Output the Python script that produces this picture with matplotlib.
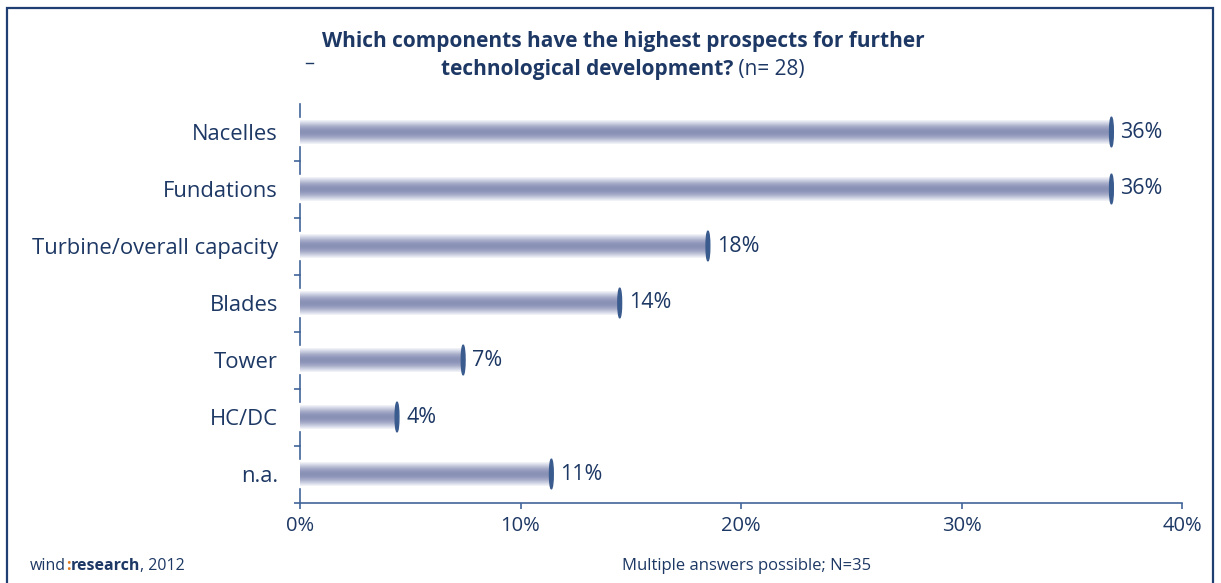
import matplotlib.pyplot as plt
import numpy as np
from matplotlib.patches import Ellipse, Rectangle
from matplotlib.colors import LinearSegmentedColormap
from matplotlib.lines import Line2D

plt.rcParams['font.family'] = ['Open Sans', 'DejaVu Sans']

categories = ['Nacelles', 'Fundations', 'Turbine/overall capacity', 'Blades',
              'Tower', 'HC/DC', 'n.a.']
# bar lengths as drawn in the picture, and the printed labels
bar_values = [36.8, 36.8, 18.5, 14.5, 7.4, 4.4, 11.4]
value_labels = ['36%', '36%', '18%', '14%', '7%', '4%', '11%']
x_ticks = [0, 10, 20, 30, 40]
x_ticklabels = ['0%', '10%', '20%', '30%', '40%']

navy = '#1d3864'
axis_col = '#42659a'
cap_col = '#3a5b8e'

W, H = 1221, 583
fig = plt.figure(figsize=(W / 100, H / 100), dpi=100)
ax = fig.add_axes([300 / W, 1 - 502.5 / H, 882 / W, 399 / H])


def put_row(pieces, x, y, align='left', size=12):
    # writes several text pieces side by side on one line (pixel coords)
    fig.canvas.draw()
    r = fig.canvas.get_renderer()
    arts = []
    for txt, weight, col in pieces:
        arts.append(fig.text(0, 1 - y / H, txt, ha='left', va='center',
                             fontsize=size, fontweight=weight, color=col))
    widths = [a.get_window_extent(r).width for a in arts]
    total = sum(widths)
    start = x - total / 2 if align == 'center' else x
    for a, w in zip(arts, widths):
        a.set_x(start / W)
        start += w


# gradient for the bars: pale edges, darker middle
cmap = LinearSegmentedColormap.from_list('bar', [(0, '#f5f6fa'), (0.5, '#c3c7db'), (1, '#8991b5')])
t = np.linspace(-1, 1, 80)
grad = np.cos(t * np.pi / 2).reshape(-1, 1)
bar_h = 0.42

for i, v in enumerate(bar_values):
    ax.imshow(grad, cmap=cmap, vmin=0, vmax=1, aspect='auto', interpolation='bilinear',
              extent=[0, v, i + bar_h / 2, i - bar_h / 2], zorder=2)
    ax.add_patch(Ellipse((v, i), width=0.17, height=0.52, color=cap_col, zorder=3))
    ax.annotate(value_labels[i], xy=(v, i), xytext=(6.5, 0), textcoords='offset points',
                ha='left', va='center', fontsize=15.5, color=navy)

ax.set_xlim(0, 40)
ax.set_ylim(len(categories) - 0.5, -0.5)

for s in ['top', 'right', 'left']:
    ax.spines[s].set_visible(False)
ax.spines['bottom'].set_color(axis_col)
ax.spines['bottom'].set_linewidth(1.2)

# y axis line only shown between the bars
gap = 0.27
for i in range(len(categories)):
    ax.add_line(Line2D([0, 0], [i - 0.5, i - gap], color=axis_col, lw=1.2, clip_on=False))
    ax.add_line(Line2D([0, 0], [i + gap, i + 0.5], color=axis_col, lw=1.2, clip_on=False))

ax.set_yticks(range(len(categories)))
ax.set_yticklabels(categories, fontsize=15.8, color=navy)
ax.tick_params(axis='y', length=0, pad=16)
ax.set_yticks(np.arange(0.5, len(categories), 1), minor=True)
ax.tick_params(axis='y', which='minor', length=4.5, width=1.2, color=axis_col, direction='out')

ax.set_xticks(x_ticks)
ax.set_xticklabels(x_ticklabels, fontsize=14.5, color=navy)
ax.tick_params(axis='x', length=4.5, width=1.2, color=axis_col, pad=5)

put_row([('Which components have the highest prospects for further', 'bold', navy)],
        623, 42, align='center', size=15)
put_row([('technological development?', 'bold', navy), (' (n= 28)', 'normal', navy)],
        623, 70, align='center', size=15)
fig.add_artist(Line2D([306 / W, 313 / W], [1 - 63 / H] * 2, color=navy, lw=1))

put_row([('wind', 'normal', navy), (':', 'bold', '#e07a1f'), ('research', 'bold', navy),
         (', 2012', 'normal', navy)], 30, 566, size=11.5)
put_row([('Multiple answers possible; N=35', 'normal', navy)], 747, 566, align='center', size=12)

# frame around the chart, bottom edge runs off the picture
fig.add_artist(Rectangle((7 / W, -0.1), 1206 / W, 1.1 - 8 / H, fill=False,
                         edgecolor='#1f3f73', lw=1.6, transform=fig.transFigure))

fig.savefig('out.png', dpi=100)
